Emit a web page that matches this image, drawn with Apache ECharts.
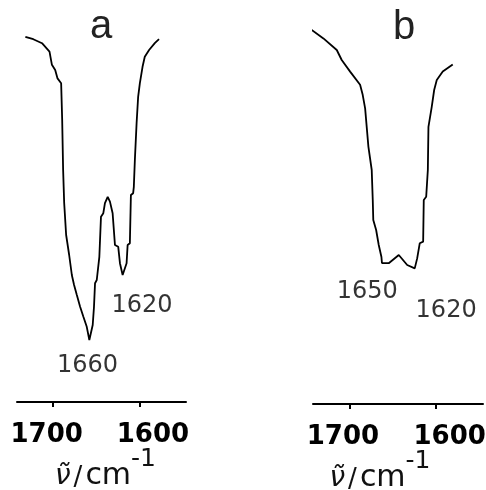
<!DOCTYPE html>
<html>
<head>
<meta charset="utf-8">
<script src="https://cdn.jsdelivr.net/npm/echarts@6/dist/echarts.min.js"></script>
<style>html,body{margin:0;padding:0;background:#fff}#c{width:486px;height:490px}</style>
</head>
<body>
<div id="c"></div>
<script>
// Panel a: IR spectrum (wavenumber cm-1, relative transmittance)
const wavenumberA = [1732.3,1723.1,1713.0,1704.3,1701.5,1697.7,1695.0,1690.8,1689.6,1688.5,1687.3,1685.0,1681.5,1678.4,1675.8,1672.6,1668.8,1665.0,1661.1,1658.1,1654.2,1652.7,1651.5,1649.5,1646.5,1644.6,1641.9,1640.0,1636.8,1634.2,1631.1,1628.4,1624.6,1622.6,1619.5,1614.9,1613.7,1611.1,1609.9,1607.3,1606.5,1605.3,1603.3,1601.5,1599.5,1596.4,1593.8,1588.8,1582.2,1577.3];
const transmittanceA = [91.3,90.7,89.7,87.6,84.3,83.0,80.9,79.7,70.5,58.0,49.8,41.75,36.75,31.75,29.25,26.75,23.8,21.3,18.8,15.5,19.25,23.8,29.7,30.5,36.3,46.3,47.2,49.7,51.3,50.1,47.2,39.25,38.8,34.7,31.75,34.7,39.25,39.7,51.75,52.2,53.8,60.5,69.7,76.3,79.7,83.8,86.3,88.0,89.7,90.7];

// Panel b
const wavenumberB = [1749.9,1743.5,1730.0,1714.6,1708.9,1699.2,1687.7,1684.7,1681.9,1678.1,1674.3,1673.1,1672.5,1669.2,1666.2,1663.1,1662.5,1654.7,1643.1,1633.4,1624.7,1621.9,1618.9,1615.0,1614.3,1611.5,1609.6,1608.9,1605.1,1602.3,1599.3,1592.4,1580.9];
const transmittanceB = [94.2,93.5,91.4,88.5,86.0,83.1,79.8,77.3,73.9,64.3,58.5,51.0,46.0,43.5,39.75,36.75,35.25,35.2,37.25,34.75,33.9,36.4,40.2,40.6,51.0,51.8,58.5,69.3,74.3,78.5,81.0,83.1,84.9];

const tickValues = [1700, 1600];
const panelTitles = ['a', 'b'];
const peakLabelsA = ['1660', '1620'];
const peakPosA = [[1660.2, 9.0], [1597.0, 24.0]];
const peakLabelsB = ['1650', '1620'];
const peakPosB = [[1679.5, 28.0], [1588.5, 23.3]];

const pairs = (xs, ys) => xs.map((x, i) => [x, ys[i]]);

const chart = echarts.init(document.getElementById('c'), null, {renderer: 'canvas'});

const tickFont = {fontFamily: 'DejaVu Sans', fontWeight: 'bold', fontSize: 26, color: '#000'};
function xAxisFor(gi, namePad) {
  return {
    type: 'value', gridIndex: gi, inverse: true, min: 1546, max: 1742,
    splitLine: {show: false},
    axisLine: {show: true, onZero: false, lineStyle: {color: '#000', width: 2}},
    axisTick: {show: true, customValues: tickValues, length: 5, lineStyle: {color: '#000', width: 2}},
    axisLabel: {
      show: true, customValues: tickValues, margin: 20,
      formatter: v => (v === 1700 ? '{l|1700}' : '{r|1600}'),
      rich: {
        l: Object.assign({padding: [0, 13, 0, 0]}, tickFont),
        r: Object.assign({padding: [0, 0, 0, 27]}, tickFont)
      }
    },
    name: '{nu|ν̃}{sl|/}{cm|cm}{sup|-1}',
    nameLocation: 'middle', nameGap: 45, nameMoveOverlap: false,
    nameTextStyle: {
      padding: namePad,
      rich: {
        nu: {fontFamily: 'DejaVu Sans', fontStyle: 'italic', fontSize: 28, color: '#111', lineHeight: 44, verticalAlign: 'bottom'},
        sl: {fontFamily: 'DejaVu Sans', fontSize: 26, color: '#111', lineHeight: 44, verticalAlign: 'bottom', padding: [0, 3, 0, 3]},
        cm: {fontFamily: 'DejaVu Sans', fontSize: 30, color: '#111', lineHeight: 44, verticalAlign: 'bottom'},
        sup: {fontFamily: 'DejaVu Sans', fontSize: 25, color: '#111', lineHeight: 24, verticalAlign: 'top'}
      }
    }
  };
}
function yAxisFor(gi) {
  return {type: 'value', gridIndex: gi, min: 0, max: 100, show: false};
}
const lineStyle = {color: '#000', width: 1.8};
function labelSeries(gi, pos, texts) {
  return {
    type: 'scatter', xAxisIndex: gi, yAxisIndex: gi, symbolSize: 0, silent: true,
    data: pos.map((p, i) => ({value: p, name: texts[i]})),
    label: {show: true, position: 'inside', formatter: p => p.name,
      fontFamily: 'DejaVu Sans', fontSize: 24, color: '#000'}
  };
}

chart.setOption({
  animation: false,
  backgroundColor: '#fff',
  title: [
    {text: panelTitles[0], left: 90, top: 7, padding: 0, textStyle: {fontFamily: 'Liberation Sans', fontWeight: 'normal', fontSize: 40, color: '#222'}},
    {text: panelTitles[1], left: 393, top: 8, padding: 0, textStyle: {fontFamily: 'Liberation Sans', fontWeight: 'normal', fontSize: 40, color: '#222'}}
  ],
  grid: [
    {left: 17, width: 169, top: 2, height: 400, outerBoundsMode: 'none', containLabel: false},
    {left: 313, width: 170, top: 4, height: 400, outerBoundsMode: 'none', containLabel: false}
  ],
  xAxis: [xAxisFor(0, [0, 0, 0, 8]), xAxisFor(1, [0, 36, 0, 0])],
  yAxis: [yAxisFor(0), yAxisFor(1)],
  series: [
    {type: 'line', xAxisIndex: 0, yAxisIndex: 0, data: pairs(wavenumberA, transmittanceA), showSymbol: false, lineStyle: lineStyle, silent: true},
    {type: 'line', xAxisIndex: 1, yAxisIndex: 1, data: pairs(wavenumberB, transmittanceB), showSymbol: false, lineStyle: lineStyle, silent: true},
    labelSeries(0, peakPosA, peakLabelsA),
    labelSeries(1, peakPosB, peakLabelsB)
  ]
});
</script>
</body>
</html>
